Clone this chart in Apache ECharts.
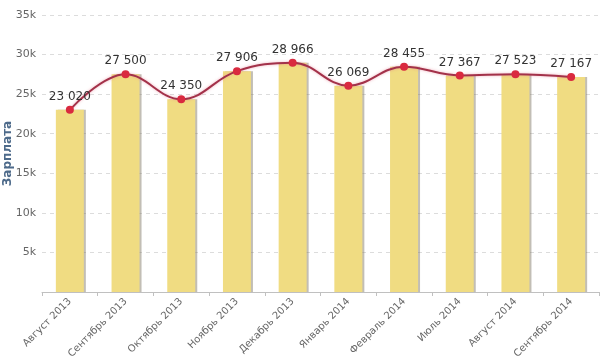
<!DOCTYPE html>
<html><head><meta charset="utf-8">
<script src="https://cdn.jsdelivr.net/npm/echarts@6/dist/echarts.min.js"></script>
<style>html,body{margin:0;padding:0;background:#fff}#c{width:600px;height:358px}</style>
</head><body><div id="c"></div>
<script>
const categories = ["Август 2013","Сентябрь 2013","Октябрь 2013","Ноябрь 2013","Декабрь 2013","Январь 2014","Февраль 2014","Июль 2014","Август 2014","Сентябрь 2014"];
const salary = [23020, 27500, 24350, 27906, 28966, 26069, 28455, 27367, 27523, 27167];
const yTicks = [0, 5000, 10000, 15000, 20000, 25000, 30000, 35000];

function fmt(v){ return String(v).replace(/\B(?=(\d{3})+(?!\d))/g, ' '); }

const chart = echarts.init(document.getElementById('c'));
chart.setOption({
  animation: false,
  grid: {left: 42, right: 1, top: 15, bottom: 66, containLabel: false, outerBoundsMode: 'none'},
  xAxis: {
    type: 'category', data: categories,
    axisLine: {lineStyle: {color: '#c0c0c0'}},
    axisTick: {show: true, lineStyle: {color: '#c0c0c0'}, length: 4},
    axisLabel: {rotate: 45, color: '#666', fontSize: 10, fontFamily: 'DejaVu Sans', margin: 8, interval: 0}
  },
  yAxis: {
    type: 'value', min: yTicks[0], max: yTicks[yTicks.length-1], interval: 5000,
    name: 'Зарплата', nameLocation: 'middle', nameGap: 28, nameRotate: 90, nameMoveOverlap: false,
    nameTextStyle: {color: '#4d6a8a', fontSize: 12, fontWeight: 'bold', fontFamily: 'DejaVu Sans'},
    axisLine: {show: false}, axisTick: {show: false},
    axisLabel: {color: '#666', fontSize: 11, fontFamily: 'DejaVu Sans', margin: 6,
      formatter: v => v === 0 ? '' : (v/1000) + 'k'},
    splitLine: {lineStyle: {color: '#dcdcdc', type: [4, 4]}}
  },
  series: [
    {
      type: 'bar', data: salary, barWidth: 28,
      itemStyle: {color: '#f0dc82', shadowColor: 'rgba(120,110,90,0.45)', shadowOffsetX: 2, shadowBlur: 0}
    },
    {
      type: 'line', data: salary, smooth: 0.4,
      symbol: 'circle', symbolSize: 8,
      lineStyle: {color: '#a3324a', width: 2, shadowColor: 'rgba(230,120,140,0.6)', shadowBlur: 3},
      itemStyle: {color: '#d92a3f'},
      label: {show: true, position: 'top', distance: 3, color: '#333', fontSize: 12,
        fontFamily: 'DejaVu Sans', formatter: p => fmt(p.value)}
    }
  ]
});
</script></body></html>
